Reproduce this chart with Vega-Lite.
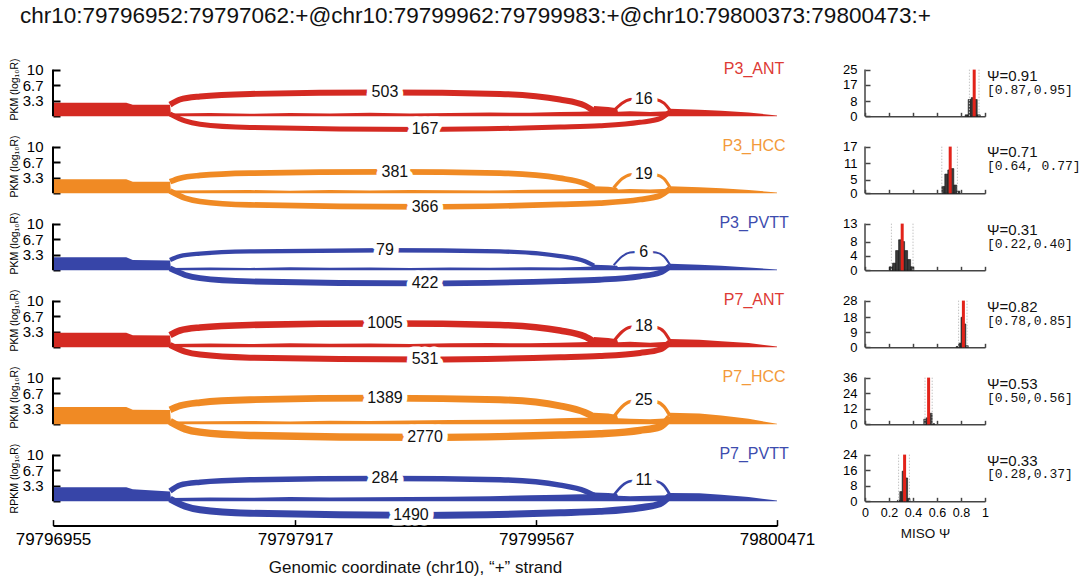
{
"$schema":"https://vega.github.io/schema/vega-lite/v6.json",
"padding":{"left":9,"top":5,"right":5,"bottom":5},
"config":{"view":{"stroke":null},"font":"Liberation Sans","axis":{"labelFont":"Liberation Sans","titleFont":"Liberation Sans","grid":false}},
"title":{"text":"chr10:79796952:79797062:+@chr10:79799962:79799983:+@chr10:79800373:79800473:+","anchor":"start","frame":"bounds","fontSize":22.5,"fontWeight":"normal","color":"#111","offset":30,"dx":11},
"datasets":{
"cov":[
{"s":"P3_ANT","x":79796955,"y":2.9},{"s":"P3_ANT","x":79797022,"y":2.9},{"s":"P3_ANT","x":79797028,"y":2.5},{"s":"P3_ANT","x":79797062,"y":2.45},{"s":"P3_ANT","x":79797068,"y":0.6},{"s":"P3_ANT","x":79797336,"y":0.7},{"s":"P3_ANT","x":79797609,"y":0.55},{"s":"P3_ANT","x":79797883,"y":0.7},{"s":"P3_ANT","x":79798156,"y":0.6},{"s":"P3_ANT","x":79798430,"y":0.75},{"s":"P3_ANT","x":79798703,"y":0.6},{"s":"P3_ANT","x":79798977,"y":0.7},{"s":"P3_ANT","x":79799250,"y":0.8},{"s":"P3_ANT","x":79799524,"y":0.75},{"s":"P3_ANT","x":79799729,"y":0.9},{"s":"P3_ANT","x":79799866,"y":1.0},{"s":"P3_ANT","x":79799955,"y":1.1},{"s":"P3_ANT","x":79799962,"y":2.2},{"s":"P3_ANT","x":79799975,"y":2.0},{"s":"P3_ANT","x":79799983,"y":1.7},{"s":"P3_ANT","x":79799990,"y":1.0},{"s":"P3_ANT","x":79800079,"y":1.1},{"s":"P3_ANT","x":79800226,"y":0.9},{"s":"P3_ANT","x":79800366,"y":1.1},{"s":"P3_ANT","x":79800373,"y":1.6},{"s":"P3_ANT","x":79800400,"y":1.4},{"s":"P3_ANT","x":79800420,"y":1.2},{"s":"P3_ANT","x":79800445,"y":0.8},{"s":"P3_ANT","x":79800471,"y":0.2},
{"s":"P3_HCC","x":79796955,"y":3.0},{"s":"P3_HCC","x":79797022,"y":3.0},{"s":"P3_HCC","x":79797028,"y":2.5},{"s":"P3_HCC","x":79797062,"y":2.45},{"s":"P3_HCC","x":79797068,"y":0.6},{"s":"P3_HCC","x":79797336,"y":0.65},{"s":"P3_HCC","x":79797609,"y":0.7},{"s":"P3_HCC","x":79797883,"y":0.55},{"s":"P3_HCC","x":79798156,"y":0.7},{"s":"P3_HCC","x":79798430,"y":0.6},{"s":"P3_HCC","x":79798703,"y":0.7},{"s":"P3_HCC","x":79798977,"y":0.65},{"s":"P3_HCC","x":79799250,"y":0.6},{"s":"P3_HCC","x":79799524,"y":0.75},{"s":"P3_HCC","x":79799729,"y":0.8},{"s":"P3_HCC","x":79799866,"y":0.9},{"s":"P3_HCC","x":79799955,"y":1.0},{"s":"P3_HCC","x":79799962,"y":1.5},{"s":"P3_HCC","x":79799975,"y":1.4},{"s":"P3_HCC","x":79799983,"y":1.2},{"s":"P3_HCC","x":79799990,"y":0.8},{"s":"P3_HCC","x":79800079,"y":0.9},{"s":"P3_HCC","x":79800226,"y":0.8},{"s":"P3_HCC","x":79800366,"y":1.0},{"s":"P3_HCC","x":79800373,"y":1.5},{"s":"P3_HCC","x":79800400,"y":1.3},{"s":"P3_HCC","x":79800420,"y":1.1},{"s":"P3_HCC","x":79800445,"y":0.7},{"s":"P3_HCC","x":79800471,"y":0.2},
{"s":"P3_PVTT","x":79796955,"y":2.8},{"s":"P3_PVTT","x":79797022,"y":2.8},{"s":"P3_PVTT","x":79797028,"y":2.2},{"s":"P3_PVTT","x":79797062,"y":2.1},{"s":"P3_PVTT","x":79797068,"y":0.5},{"s":"P3_PVTT","x":79797336,"y":0.6},{"s":"P3_PVTT","x":79797609,"y":0.5},{"s":"P3_PVTT","x":79797883,"y":0.65},{"s":"P3_PVTT","x":79798156,"y":0.55},{"s":"P3_PVTT","x":79798430,"y":0.6},{"s":"P3_PVTT","x":79798703,"y":0.5},{"s":"P3_PVTT","x":79798977,"y":0.6},{"s":"P3_PVTT","x":79799250,"y":0.55},{"s":"P3_PVTT","x":79799524,"y":0.65},{"s":"P3_PVTT","x":79799729,"y":0.6},{"s":"P3_PVTT","x":79799866,"y":0.7},{"s":"P3_PVTT","x":79799955,"y":0.8},{"s":"P3_PVTT","x":79799962,"y":1.2},{"s":"P3_PVTT","x":79799975,"y":1.1},{"s":"P3_PVTT","x":79799983,"y":1.0},{"s":"P3_PVTT","x":79799990,"y":0.7},{"s":"P3_PVTT","x":79800079,"y":0.8},{"s":"P3_PVTT","x":79800226,"y":0.7},{"s":"P3_PVTT","x":79800366,"y":0.9},{"s":"P3_PVTT","x":79800373,"y":1.4},{"s":"P3_PVTT","x":79800400,"y":1.2},{"s":"P3_PVTT","x":79800420,"y":1.0},{"s":"P3_PVTT","x":79800445,"y":0.6},{"s":"P3_PVTT","x":79800471,"y":0.2},
{"s":"P7_ANT","x":79796955,"y":3.1},{"s":"P7_ANT","x":79797022,"y":3.1},{"s":"P7_ANT","x":79797028,"y":2.6},{"s":"P7_ANT","x":79797062,"y":2.55},{"s":"P7_ANT","x":79797068,"y":0.7},{"s":"P7_ANT","x":79797336,"y":0.8},{"s":"P7_ANT","x":79797609,"y":0.7},{"s":"P7_ANT","x":79797883,"y":0.85},{"s":"P7_ANT","x":79798156,"y":0.75},{"s":"P7_ANT","x":79798430,"y":0.8},{"s":"P7_ANT","x":79798703,"y":0.7},{"s":"P7_ANT","x":79798977,"y":0.85},{"s":"P7_ANT","x":79799250,"y":0.9},{"s":"P7_ANT","x":79799524,"y":0.85},{"s":"P7_ANT","x":79799729,"y":1.0},{"s":"P7_ANT","x":79799866,"y":1.1},{"s":"P7_ANT","x":79799955,"y":1.2},{"s":"P7_ANT","x":79799962,"y":2.2},{"s":"P7_ANT","x":79799975,"y":2.0},{"s":"P7_ANT","x":79799983,"y":1.7},{"s":"P7_ANT","x":79799990,"y":1.1},{"s":"P7_ANT","x":79800079,"y":1.2},{"s":"P7_ANT","x":79800226,"y":1.0},{"s":"P7_ANT","x":79800366,"y":1.2},{"s":"P7_ANT","x":79800373,"y":1.8},{"s":"P7_ANT","x":79800400,"y":1.6},{"s":"P7_ANT","x":79800420,"y":1.3},{"s":"P7_ANT","x":79800445,"y":0.9},{"s":"P7_ANT","x":79800471,"y":0.2},
{"s":"P7_HCC","x":79796955,"y":3.7},{"s":"P7_HCC","x":79797022,"y":3.7},{"s":"P7_HCC","x":79797028,"y":3.1},{"s":"P7_HCC","x":79797062,"y":3.05},{"s":"P7_HCC","x":79797068,"y":0.6},{"s":"P7_HCC","x":79797336,"y":0.65},{"s":"P7_HCC","x":79797609,"y":0.7},{"s":"P7_HCC","x":79797883,"y":0.6},{"s":"P7_HCC","x":79798156,"y":0.75},{"s":"P7_HCC","x":79798430,"y":0.7},{"s":"P7_HCC","x":79798703,"y":0.8},{"s":"P7_HCC","x":79798977,"y":0.9},{"s":"P7_HCC","x":79799250,"y":1.0},{"s":"P7_HCC","x":79799524,"y":1.1},{"s":"P7_HCC","x":79799729,"y":1.3},{"s":"P7_HCC","x":79799866,"y":1.4},{"s":"P7_HCC","x":79799955,"y":1.4},{"s":"P7_HCC","x":79799962,"y":2.5},{"s":"P7_HCC","x":79799975,"y":2.3},{"s":"P7_HCC","x":79799983,"y":2.0},{"s":"P7_HCC","x":79799990,"y":1.3},{"s":"P7_HCC","x":79800079,"y":1.2},{"s":"P7_HCC","x":79800226,"y":1.1},{"s":"P7_HCC","x":79800366,"y":1.3},{"s":"P7_HCC","x":79800373,"y":2.5},{"s":"P7_HCC","x":79800400,"y":2.3},{"s":"P7_HCC","x":79800420,"y":1.9},{"s":"P7_HCC","x":79800445,"y":1.2},{"s":"P7_HCC","x":79800471,"y":0.1},
{"s":"P7_PVTT","x":79796955,"y":3.0},{"s":"P7_PVTT","x":79797022,"y":3.0},{"s":"P7_PVTT","x":79797028,"y":2.6},{"s":"P7_PVTT","x":79797062,"y":2.1},{"s":"P7_PVTT","x":79797068,"y":0.7},{"s":"P7_PVTT","x":79797336,"y":0.8},{"s":"P7_PVTT","x":79797609,"y":0.75},{"s":"P7_PVTT","x":79797883,"y":0.9},{"s":"P7_PVTT","x":79798156,"y":0.8},{"s":"P7_PVTT","x":79798430,"y":0.85},{"s":"P7_PVTT","x":79798703,"y":0.9},{"s":"P7_PVTT","x":79798977,"y":1.0},{"s":"P7_PVTT","x":79799250,"y":1.1},{"s":"P7_PVTT","x":79799524,"y":1.3},{"s":"P7_PVTT","x":79799729,"y":1.4},{"s":"P7_PVTT","x":79799866,"y":1.5},{"s":"P7_PVTT","x":79799955,"y":1.5},{"s":"P7_PVTT","x":79799962,"y":1.9},{"s":"P7_PVTT","x":79799975,"y":1.8},{"s":"P7_PVTT","x":79799983,"y":1.6},{"s":"P7_PVTT","x":79799990,"y":1.2},{"s":"P7_PVTT","x":79800079,"y":1.1},{"s":"P7_PVTT","x":79800226,"y":1.2},{"s":"P7_PVTT","x":79800366,"y":1.3},{"s":"P7_PVTT","x":79800373,"y":1.8},{"s":"P7_PVTT","x":79800400,"y":1.7},{"s":"P7_PVTT","x":79800420,"y":1.4},{"s":"P7_PVTT","x":79800445,"y":0.9},{"s":"P7_PVTT","x":79800471,"y":0.2}
],
"arcs":[
{"s":"P3_ANT","a":"u","n":503,"x":79797062,"y":2.5},{"s":"P3_ANT","a":"u","n":503,"x":79797130,"y":3.6},{"s":"P3_ANT","a":"u","n":503,"x":79797267,"y":4.25},{"s":"P3_ANT","a":"u","n":503,"x":79797609,"y":4.79},{"s":"P3_ANT","a":"u","n":503,"x":79798532,"y":5.1},{"s":"P3_ANT","a":"u","n":503,"x":79799319,"y":4.79},{"s":"P3_ANT","a":"u","n":503,"x":79799729,"y":3.6},{"s":"P3_ANT","a":"u","n":503,"x":79799900,"y":2.3},{"s":"P3_ANT","a":"u","n":503,"x":79799962,"y":1.1},
{"s":"P3_ANT","a":"l","n":167,"x":79797062,"y":0.5},{"s":"P3_ANT","a":"l","n":167,"x":79797165,"y":-0.98},{"s":"P3_ANT","a":"l","n":167,"x":79797267,"y":-1.68},{"s":"P3_ANT","a":"l","n":167,"x":79797609,"y":-2.38},{"s":"P3_ANT","a":"l","n":167,"x":79798806,"y":-2.8},{"s":"P3_ANT","a":"l","n":167,"x":79799729,"y":-2.3},{"s":"P3_ANT","a":"l","n":167,"x":79799967,"y":-2.02},{"s":"P3_ANT","a":"l","n":167,"x":79800152,"y":-1.29},{"s":"P3_ANT","a":"l","n":167,"x":79800299,"y":-0.5},{"s":"P3_ANT","a":"l","n":167,"x":79800373,"y":1.0},
{"s":"P3_ANT","a":"s","n":16,"x":79799980,"y":1.2},{"s":"P3_ANT","a":"s","n":16,"x":79800020,"y":2.81},{"s":"P3_ANT","a":"s","n":16,"x":79800079,"y":3.61},{"s":"P3_ANT","a":"s","n":16,"x":79800180,"y":3.8},{"s":"P3_ANT","a":"s","n":16,"x":79800270,"y":3.61},{"s":"P3_ANT","a":"s","n":16,"x":79800329,"y":2.81},{"s":"P3_ANT","a":"s","n":16,"x":79800373,"y":1.3},
{"s":"P3_HCC","a":"u","n":381,"x":79797062,"y":2.5},{"s":"P3_HCC","a":"u","n":381,"x":79797130,"y":3.25},{"s":"P3_HCC","a":"u","n":381,"x":79797267,"y":3.83},{"s":"P3_HCC","a":"u","n":381,"x":79797609,"y":4.32},{"s":"P3_HCC","a":"u","n":381,"x":79798532,"y":4.6},{"s":"P3_HCC","a":"u","n":381,"x":79799319,"y":4.32},{"s":"P3_HCC","a":"u","n":381,"x":79799729,"y":3.25},{"s":"P3_HCC","a":"u","n":381,"x":79799900,"y":2.07},{"s":"P3_HCC","a":"u","n":381,"x":79799962,"y":1.1},
{"s":"P3_HCC","a":"l","n":366,"x":79797062,"y":0.5},{"s":"P3_HCC","a":"l","n":366,"x":79797165,"y":-1.02},{"s":"P3_HCC","a":"l","n":366,"x":79797267,"y":-1.74},{"s":"P3_HCC","a":"l","n":366,"x":79797609,"y":-2.47},{"s":"P3_HCC","a":"l","n":366,"x":79798806,"y":-2.9},{"s":"P3_HCC","a":"l","n":366,"x":79799729,"y":-2.38},{"s":"P3_HCC","a":"l","n":366,"x":79799967,"y":-2.09},{"s":"P3_HCC","a":"l","n":366,"x":79800152,"y":-1.33},{"s":"P3_HCC","a":"l","n":366,"x":79800299,"y":-0.52},{"s":"P3_HCC","a":"l","n":366,"x":79800373,"y":1.0},
{"s":"P3_HCC","a":"s","n":19,"x":79799980,"y":1.2},{"s":"P3_HCC","a":"s","n":19,"x":79800020,"y":3.11},{"s":"P3_HCC","a":"s","n":19,"x":79800079,"y":3.99},{"s":"P3_HCC","a":"s","n":19,"x":79800180,"y":4.2},{"s":"P3_HCC","a":"s","n":19,"x":79800270,"y":3.99},{"s":"P3_HCC","a":"s","n":19,"x":79800329,"y":3.11},{"s":"P3_HCC","a":"s","n":19,"x":79800373,"y":1.3},
{"s":"P3_PVTT","a":"u","n":79,"x":79797062,"y":2.2},{"s":"P3_PVTT","a":"u","n":79,"x":79797130,"y":3.04},{"s":"P3_PVTT","a":"u","n":79,"x":79797267,"y":3.58},{"s":"P3_PVTT","a":"u","n":79,"x":79797609,"y":4.04},{"s":"P3_PVTT","a":"u","n":79,"x":79798532,"y":4.3},{"s":"P3_PVTT","a":"u","n":79,"x":79799319,"y":4.04},{"s":"P3_PVTT","a":"u","n":79,"x":79799729,"y":3.04},{"s":"P3_PVTT","a":"u","n":79,"x":79799900,"y":1.94},{"s":"P3_PVTT","a":"u","n":79,"x":79799962,"y":1.0},
{"s":"P3_PVTT","a":"l","n":422,"x":79797062,"y":0.4},{"s":"P3_PVTT","a":"l","n":422,"x":79797165,"y":-0.98},{"s":"P3_PVTT","a":"l","n":422,"x":79797267,"y":-1.68},{"s":"P3_PVTT","a":"l","n":422,"x":79797609,"y":-2.38},{"s":"P3_PVTT","a":"l","n":422,"x":79798806,"y":-2.8},{"s":"P3_PVTT","a":"l","n":422,"x":79799729,"y":-2.3},{"s":"P3_PVTT","a":"l","n":422,"x":79799967,"y":-2.02},{"s":"P3_PVTT","a":"l","n":422,"x":79800152,"y":-1.29},{"s":"P3_PVTT","a":"l","n":422,"x":79800299,"y":-0.5},{"s":"P3_PVTT","a":"l","n":422,"x":79800373,"y":0.9},
{"s":"P3_PVTT","a":"s","n":6,"x":79799980,"y":1.1},{"s":"P3_PVTT","a":"s","n":6,"x":79800020,"y":2.96},{"s":"P3_PVTT","a":"s","n":6,"x":79800079,"y":3.8},{"s":"P3_PVTT","a":"s","n":6,"x":79800180,"y":4.0},{"s":"P3_PVTT","a":"s","n":6,"x":79800270,"y":3.8},{"s":"P3_PVTT","a":"s","n":6,"x":79800329,"y":2.96},{"s":"P3_PVTT","a":"s","n":6,"x":79800373,"y":1.2},
{"s":"P7_ANT","a":"u","n":1005,"x":79797062,"y":2.6},{"s":"P7_ANT","a":"u","n":1005,"x":79797130,"y":3.6},{"s":"P7_ANT","a":"u","n":1005,"x":79797267,"y":4.25},{"s":"P7_ANT","a":"u","n":1005,"x":79797609,"y":4.79},{"s":"P7_ANT","a":"u","n":1005,"x":79798532,"y":5.1},{"s":"P7_ANT","a":"u","n":1005,"x":79799319,"y":4.79},{"s":"P7_ANT","a":"u","n":1005,"x":79799729,"y":3.6},{"s":"P7_ANT","a":"u","n":1005,"x":79799900,"y":2.3},{"s":"P7_ANT","a":"u","n":1005,"x":79799962,"y":1.2},
{"s":"P7_ANT","a":"l","n":531,"x":79797062,"y":0.5},{"s":"P7_ANT","a":"l","n":531,"x":79797165,"y":-0.91},{"s":"P7_ANT","a":"l","n":531,"x":79797267,"y":-1.56},{"s":"P7_ANT","a":"l","n":531,"x":79797609,"y":-2.21},{"s":"P7_ANT","a":"l","n":531,"x":79798806,"y":-2.6},{"s":"P7_ANT","a":"l","n":531,"x":79799729,"y":-2.13},{"s":"P7_ANT","a":"l","n":531,"x":79799967,"y":-1.87},{"s":"P7_ANT","a":"l","n":531,"x":79800152,"y":-1.2},{"s":"P7_ANT","a":"l","n":531,"x":79800299,"y":-0.47},{"s":"P7_ANT","a":"l","n":531,"x":79800373,"y":1.1},
{"s":"P7_ANT","a":"s","n":18,"x":79799980,"y":1.3},{"s":"P7_ANT","a":"s","n":18,"x":79800020,"y":3.33},{"s":"P7_ANT","a":"s","n":18,"x":79800079,"y":4.28},{"s":"P7_ANT","a":"s","n":18,"x":79800180,"y":4.5},{"s":"P7_ANT","a":"s","n":18,"x":79800270,"y":4.28},{"s":"P7_ANT","a":"s","n":18,"x":79800329,"y":3.33},{"s":"P7_ANT","a":"s","n":18,"x":79800373,"y":1.4},
{"s":"P7_HCC","a":"u","n":1389,"x":79797062,"y":3.1},{"s":"P7_HCC","a":"u","n":1389,"x":79797130,"y":3.95},{"s":"P7_HCC","a":"u","n":1389,"x":79797267,"y":4.66},{"s":"P7_HCC","a":"u","n":1389,"x":79797609,"y":5.26},{"s":"P7_HCC","a":"u","n":1389,"x":79798532,"y":5.6},{"s":"P7_HCC","a":"u","n":1389,"x":79799319,"y":5.26},{"s":"P7_HCC","a":"u","n":1389,"x":79799729,"y":3.95},{"s":"P7_HCC","a":"u","n":1389,"x":79799900,"y":2.53},{"s":"P7_HCC","a":"u","n":1389,"x":79799962,"y":1.6},
{"s":"P7_HCC","a":"l","n":2770,"x":79797062,"y":0.6},{"s":"P7_HCC","a":"l","n":2770,"x":79797165,"y":-0.98},{"s":"P7_HCC","a":"l","n":2770,"x":79797267,"y":-1.68},{"s":"P7_HCC","a":"l","n":2770,"x":79797609,"y":-2.38},{"s":"P7_HCC","a":"l","n":2770,"x":79798806,"y":-2.8},{"s":"P7_HCC","a":"l","n":2770,"x":79799729,"y":-2.3},{"s":"P7_HCC","a":"l","n":2770,"x":79799967,"y":-2.02},{"s":"P7_HCC","a":"l","n":2770,"x":79800152,"y":-1.29},{"s":"P7_HCC","a":"l","n":2770,"x":79800299,"y":-0.5},{"s":"P7_HCC","a":"l","n":2770,"x":79800373,"y":1.5},
{"s":"P7_HCC","a":"s","n":25,"x":79799980,"y":1.6},{"s":"P7_HCC","a":"s","n":25,"x":79800020,"y":3.77},{"s":"P7_HCC","a":"s","n":25,"x":79800079,"y":4.85},{"s":"P7_HCC","a":"s","n":25,"x":79800180,"y":5.1},{"s":"P7_HCC","a":"s","n":25,"x":79800270,"y":4.85},{"s":"P7_HCC","a":"s","n":25,"x":79800329,"y":3.77},{"s":"P7_HCC","a":"s","n":25,"x":79800373,"y":1.8},
{"s":"P7_PVTT","a":"u","n":284,"x":79797062,"y":2.2},{"s":"P7_PVTT","a":"u","n":284,"x":79797130,"y":3.46},{"s":"P7_PVTT","a":"u","n":284,"x":79797267,"y":4.08},{"s":"P7_PVTT","a":"u","n":284,"x":79797609,"y":4.61},{"s":"P7_PVTT","a":"u","n":284,"x":79798532,"y":4.9},{"s":"P7_PVTT","a":"u","n":284,"x":79799319,"y":4.61},{"s":"P7_PVTT","a":"u","n":284,"x":79799729,"y":3.46},{"s":"P7_PVTT","a":"u","n":284,"x":79799900,"y":2.21},{"s":"P7_PVTT","a":"u","n":284,"x":79799962,"y":1.3},
{"s":"P7_PVTT","a":"l","n":1490,"x":79797062,"y":0.5},{"s":"P7_PVTT","a":"l","n":1490,"x":79797165,"y":-1.05},{"s":"P7_PVTT","a":"l","n":1490,"x":79797267,"y":-1.8},{"s":"P7_PVTT","a":"l","n":1490,"x":79797609,"y":-2.55},{"s":"P7_PVTT","a":"l","n":1490,"x":79798806,"y":-3.0},{"s":"P7_PVTT","a":"l","n":1490,"x":79799729,"y":-2.46},{"s":"P7_PVTT","a":"l","n":1490,"x":79799967,"y":-2.16},{"s":"P7_PVTT","a":"l","n":1490,"x":79800152,"y":-1.38},{"s":"P7_PVTT","a":"l","n":1490,"x":79800299,"y":-0.54},{"s":"P7_PVTT","a":"l","n":1490,"x":79800373,"y":1.2},
{"s":"P7_PVTT","a":"s","n":11,"x":79799980,"y":1.3},{"s":"P7_PVTT","a":"s","n":11,"x":79800020,"y":3.33},{"s":"P7_PVTT","a":"s","n":11,"x":79800079,"y":4.28},{"s":"P7_PVTT","a":"s","n":11,"x":79800180,"y":4.5},{"s":"P7_PVTT","a":"s","n":11,"x":79800270,"y":4.28},{"s":"P7_PVTT","a":"s","n":11,"x":79800329,"y":3.33},{"s":"P7_PVTT","a":"s","n":11,"x":79800373,"y":1.4}
],
"lab":[
{"s":"P3_ANT","n":503,"x":79798532,"y":5.1},{"s":"P3_ANT","n":167,"x":79798806,"y":-2.8},{"s":"P3_ANT","n":16,"x":79800180,"y":3.8},
{"s":"P3_HCC","n":381,"x":79798600,"y":4.6},{"s":"P3_HCC","n":366,"x":79798806,"y":-2.9},{"s":"P3_HCC","n":19,"x":79800180,"y":4.2},
{"s":"P3_PVTT","n":79,"x":79798532,"y":4.3},{"s":"P3_PVTT","n":422,"x":79798806,"y":-2.8},{"s":"P3_PVTT","n":6,"x":79800180,"y":4.0},
{"s":"P7_ANT","n":1005,"x":79798532,"y":5.1},{"s":"P7_ANT","n":531,"x":79798806,"y":-2.6},{"s":"P7_ANT","n":18,"x":79800180,"y":4.5},
{"s":"P7_HCC","n":1389,"x":79798532,"y":5.6},{"s":"P7_HCC","n":2770,"x":79798806,"y":-2.8},{"s":"P7_HCC","n":25,"x":79800180,"y":5.1},
{"s":"P7_PVTT","n":284,"x":79798532,"y":4.9},{"s":"P7_PVTT","n":1490,"x":79798710,"y":-3.0},{"s":"P7_PVTT","n":11,"x":79800180,"y":4.5}
],
"names":[
{"s":"P3_ANT","x":79800450,"y":10.2},{"s":"P3_HCC","x":79800450,"y":10.2},{"s":"P3_PVTT","x":79800450,"y":10.2},{"s":"P7_ANT","x":79800450,"y":10.2},{"s":"P7_HCC","x":79800450,"y":10.2},{"s":"P7_PVTT","x":79800450,"y":10.2}
],
"hist":[
{"s":"P3_ANT","x":0.835,"x2":0.86,"y":0.8},{"s":"P3_ANT","x":0.86,"x2":0.885,"y":9},{"s":"P3_ANT","x":0.885,"x2":0.91,"y":10},{"s":"P3_ANT","x":0.91,"x2":0.935,"y":9},{"s":"P3_ANT","x":0.935,"x2":0.96,"y":0.8},
{"s":"P3_HCC","x":0.64,"x2":0.665,"y":2.5},{"s":"P3_HCC","x":0.665,"x2":0.69,"y":7},{"s":"P3_HCC","x":0.69,"x2":0.715,"y":8.5},{"s":"P3_HCC","x":0.715,"x2":0.74,"y":9},{"s":"P3_HCC","x":0.74,"x2":0.765,"y":3},{"s":"P3_HCC","x":0.765,"x2":0.79,"y":0.8},
{"s":"P3_PVTT","x":0.205,"x2":0.23,"y":1},{"s":"P3_PVTT","x":0.23,"x2":0.255,"y":2},{"s":"P3_PVTT","x":0.255,"x2":0.28,"y":5.5},{"s":"P3_PVTT","x":0.28,"x2":0.305,"y":8.5},{"s":"P3_PVTT","x":0.305,"x2":0.33,"y":8},{"s":"P3_PVTT","x":0.33,"x2":0.355,"y":5.5},{"s":"P3_PVTT","x":0.355,"x2":0.38,"y":3},{"s":"P3_PVTT","x":0.38,"x2":0.405,"y":1},
{"s":"P7_ANT","x":0.76,"x2":0.78,"y":0.5},{"s":"P7_ANT","x":0.78,"x2":0.8,"y":2.5},{"s":"P7_ANT","x":0.8,"x2":0.82,"y":18},{"s":"P7_ANT","x":0.82,"x2":0.84,"y":14},{"s":"P7_ANT","x":0.84,"x2":0.86,"y":1},
{"s":"P7_HCC","x":0.49,"x2":0.51,"y":4},{"s":"P7_HCC","x":0.51,"x2":0.535,"y":5},{"s":"P7_HCC","x":0.535,"x2":0.56,"y":8.5},{"s":"P7_HCC","x":0.56,"x2":0.58,"y":0.5},
{"s":"P7_PVTT","x":0.27,"x2":0.29,"y":0.5},{"s":"P7_PVTT","x":0.29,"x2":0.31,"y":5},{"s":"P7_PVTT","x":0.31,"x2":0.33,"y":15.5},{"s":"P7_PVTT","x":0.33,"x2":0.355,"y":12},{"s":"P7_PVTT","x":0.355,"x2":0.375,"y":1.5}
],
"misol":[
{"s":"P3_ANT","k":"ci","x":0.87,"y":25},{"s":"P3_ANT","k":"ci","x":0.95,"y":25},{"s":"P3_ANT","k":"psi","x":0.91,"y":25},{"s":"P3_ANT","k":"ax","x":0,"y":25},
{"s":"P3_HCC","k":"ci","x":0.64,"y":17},{"s":"P3_HCC","k":"ci","x":0.77,"y":17},{"s":"P3_HCC","k":"psi","x":0.71,"y":17},{"s":"P3_HCC","k":"ax","x":0,"y":17},
{"s":"P3_PVTT","k":"ci","x":0.22,"y":13},{"s":"P3_PVTT","k":"ci","x":0.4,"y":13},{"s":"P3_PVTT","k":"psi","x":0.31,"y":13},{"s":"P3_PVTT","k":"ax","x":0,"y":13},
{"s":"P7_ANT","k":"ci","x":0.78,"y":28},{"s":"P7_ANT","k":"ci","x":0.85,"y":28},{"s":"P7_ANT","k":"psi","x":0.82,"y":28},{"s":"P7_ANT","k":"ax","x":0,"y":28},
{"s":"P7_HCC","k":"ci","x":0.5,"y":36},{"s":"P7_HCC","k":"ci","x":0.56,"y":36},{"s":"P7_HCC","k":"psi","x":0.53,"y":36},{"s":"P7_HCC","k":"ax","x":0,"y":36},
{"s":"P7_PVTT","k":"ci","x":0.28,"y":24},{"s":"P7_PVTT","k":"ci","x":0.37,"y":24},{"s":"P7_PVTT","k":"psi","x":0.33,"y":24},{"s":"P7_PVTT","k":"ax","x":0,"y":24}
],
"misot":[
{"s":"P3_ANT","x":1,"y":25,"t1":"Ψ=0.91","t2":"[0.87,0.95]"},
{"s":"P3_HCC","x":1,"y":17,"t1":"Ψ=0.71","t2":"[0.64, 0.77]"},
{"s":"P3_PVTT","x":1,"y":13,"t1":"Ψ=0.31","t2":"[0.22,0.40]"},
{"s":"P7_ANT","x":1,"y":28,"t1":"Ψ=0.82","t2":"[0.78,0.85]"},
{"s":"P7_HCC","x":1,"y":36,"t1":"Ψ=0.53","t2":"[0.50,0.56]"},
{"s":"P7_PVTT","x":1,"y":24,"t1":"Ψ=0.33","t2":"[0.28,0.37]"}
]
},
"spacing":27,
"hconcat":[
{"bounds":"flush","spacing":0,
"vconcat":[
{"width":724,"height":76.6,
"encoding":{"x":{"field":"x","type":"quantitative","scale":{"domain":[79796955,79797062,79799962,79799983,79800373,79800471],"range":[0,117,541,564,617,724],"zero":false,"nice":false},"axis":null},
"y":{"field":"y","type":"quantitative","scale":{"domain":[-5.2,11.2],"zero":false,"nice":false},"axis":{"values":[0,3.3,6.7,10],"labelExpr":"datum.value===0?'':''+datum.value","domain":false,"tickSize":-7,"tickWidth":2,"tickColor":"black","labelFontSize":15,"labelColor":"black","labelPadding":17,"title":"PKM (log₁₀R)","titleFontSize":10.5,"titleFontWeight":"normal","titleColor":"black","titleX":-34,"titleY":25}}},
"layer":[
{"data":{"name":"cov"},"transform":[{"filter":"datum.s==='P3_ANT'"}],"mark":{"type":"area","color":"#d42a22"}},
{"data":{"name":"arcs"},"transform":[{"filter":"datum.s==='P3_ANT'"}],"mark":{"type":"line","color":"#d42a22","interpolate":"monotone"},"encoding":{"detail":{"field":"a","type":"nominal"},"size":{"field":"n","type":"quantitative","scale":{"type":"log","domain":[3,3000],"range":[1.5,7.5]},"legend":null}}},
{"data":{"name":"lab"},"transform":[{"filter":"datum.s==='P3_ANT'"}],"mark":{"type":"text","fontSize":16,"fill":"white","stroke":"white","strokeWidth":11,"strokeJoin":"round"},"encoding":{"text":{"field":"n","type":"nominal"}}},
{"data":{"name":"lab"},"transform":[{"filter":"datum.s==='P3_ANT'"}],"mark":{"type":"text","fontSize":16,"fill":"#111"},"encoding":{"text":{"field":"n","type":"nominal"}}},
{"data":{"name":"names"},"transform":[{"filter":"datum.s==='P3_ANT'"}],"mark":{"type":"text","fontSize":16,"fill":"#dd3a35"},"encoding":{"text":{"field":"s","type":"nominal"}}},
{"data":{"values":[{"x":79796955,"y":0,"y2":10}]},"mark":{"type":"rule","color":"black","strokeWidth":2},"encoding":{"y2":{"field":"y2"}}}
]},
{"width":724,"height":76.6,
"encoding":{"x":{"field":"x","type":"quantitative","scale":{"domain":[79796955,79797062,79799962,79799983,79800373,79800471],"range":[0,117,541,564,617,724],"zero":false,"nice":false},"axis":null},
"y":{"field":"y","type":"quantitative","scale":{"domain":[-5.2,11.2],"zero":false,"nice":false},"axis":{"values":[0,3.3,6.7,10],"labelExpr":"datum.value===0?'':''+datum.value","domain":false,"tickSize":-7,"tickWidth":2,"tickColor":"black","labelFontSize":15,"labelColor":"black","labelPadding":17,"title":"PKM (log₁₀R)","titleFontSize":10.5,"titleFontWeight":"normal","titleColor":"black","titleX":-34,"titleY":25}}},
"layer":[
{"data":{"name":"cov"},"transform":[{"filter":"datum.s==='P3_HCC'"}],"mark":{"type":"area","color":"#f08a24"}},
{"data":{"name":"arcs"},"transform":[{"filter":"datum.s==='P3_HCC'"}],"mark":{"type":"line","color":"#f08a24","interpolate":"monotone"},"encoding":{"detail":{"field":"a","type":"nominal"},"size":{"field":"n","type":"quantitative","scale":{"type":"log","domain":[3,3000],"range":[1.5,7.5]},"legend":null}}},
{"data":{"name":"lab"},"transform":[{"filter":"datum.s==='P3_HCC'"}],"mark":{"type":"text","fontSize":16,"fill":"white","stroke":"white","strokeWidth":11,"strokeJoin":"round"},"encoding":{"text":{"field":"n","type":"nominal"}}},
{"data":{"name":"lab"},"transform":[{"filter":"datum.s==='P3_HCC'"}],"mark":{"type":"text","fontSize":16,"fill":"#111"},"encoding":{"text":{"field":"n","type":"nominal"}}},
{"data":{"name":"names"},"transform":[{"filter":"datum.s==='P3_HCC'"}],"mark":{"type":"text","fontSize":16,"fill":"#f39a3a"},"encoding":{"text":{"field":"s","type":"nominal"}}},
{"data":{"values":[{"x":79796955,"y":0,"y2":10}]},"mark":{"type":"rule","color":"black","strokeWidth":2},"encoding":{"y2":{"field":"y2"}}}
]},
{"width":724,"height":76.6,
"encoding":{"x":{"field":"x","type":"quantitative","scale":{"domain":[79796955,79797062,79799962,79799983,79800373,79800471],"range":[0,117,541,564,617,724],"zero":false,"nice":false},"axis":null},
"y":{"field":"y","type":"quantitative","scale":{"domain":[-5.2,11.2],"zero":false,"nice":false},"axis":{"values":[0,3.3,6.7,10],"labelExpr":"datum.value===0?'':''+datum.value","domain":false,"tickSize":-7,"tickWidth":2,"tickColor":"black","labelFontSize":15,"labelColor":"black","labelPadding":17,"title":"PKM (log₁₀R)","titleFontSize":10.5,"titleFontWeight":"normal","titleColor":"black","titleX":-34,"titleY":25}}},
"layer":[
{"data":{"name":"cov"},"transform":[{"filter":"datum.s==='P3_PVTT'"}],"mark":{"type":"area","color":"#3745a8"}},
{"data":{"name":"arcs"},"transform":[{"filter":"datum.s==='P3_PVTT'"}],"mark":{"type":"line","color":"#3745a8","interpolate":"monotone"},"encoding":{"detail":{"field":"a","type":"nominal"},"size":{"field":"n","type":"quantitative","scale":{"type":"log","domain":[3,3000],"range":[1.5,7.5]},"legend":null}}},
{"data":{"name":"lab"},"transform":[{"filter":"datum.s==='P3_PVTT'"}],"mark":{"type":"text","fontSize":16,"fill":"white","stroke":"white","strokeWidth":11,"strokeJoin":"round"},"encoding":{"text":{"field":"n","type":"nominal"}}},
{"data":{"name":"lab"},"transform":[{"filter":"datum.s==='P3_PVTT'"}],"mark":{"type":"text","fontSize":16,"fill":"#111"},"encoding":{"text":{"field":"n","type":"nominal"}}},
{"data":{"name":"names"},"transform":[{"filter":"datum.s==='P3_PVTT'"}],"mark":{"type":"text","fontSize":16,"fill":"#3d4cae"},"encoding":{"text":{"field":"s","type":"nominal"}}},
{"data":{"values":[{"x":79796955,"y":0,"y2":10}]},"mark":{"type":"rule","color":"black","strokeWidth":2},"encoding":{"y2":{"field":"y2"}}}
]},
{"width":724,"height":76.6,
"encoding":{"x":{"field":"x","type":"quantitative","scale":{"domain":[79796955,79797062,79799962,79799983,79800373,79800471],"range":[0,117,541,564,617,724],"zero":false,"nice":false},"axis":null},
"y":{"field":"y","type":"quantitative","scale":{"domain":[-5.2,11.2],"zero":false,"nice":false},"axis":{"values":[0,3.3,6.7,10],"labelExpr":"datum.value===0?'':''+datum.value","domain":false,"tickSize":-7,"tickWidth":2,"tickColor":"black","labelFontSize":15,"labelColor":"black","labelPadding":17,"title":"PKM (log₁₀R)","titleFontSize":10.5,"titleFontWeight":"normal","titleColor":"black","titleX":-34,"titleY":25}}},
"layer":[
{"data":{"name":"cov"},"transform":[{"filter":"datum.s==='P7_ANT'"}],"mark":{"type":"area","color":"#d42a22"}},
{"data":{"name":"arcs"},"transform":[{"filter":"datum.s==='P7_ANT'"}],"mark":{"type":"line","color":"#d42a22","interpolate":"monotone"},"encoding":{"detail":{"field":"a","type":"nominal"},"size":{"field":"n","type":"quantitative","scale":{"type":"log","domain":[3,3000],"range":[1.5,7.5]},"legend":null}}},
{"data":{"name":"lab"},"transform":[{"filter":"datum.s==='P7_ANT'"}],"mark":{"type":"text","fontSize":16,"fill":"white","stroke":"white","strokeWidth":11,"strokeJoin":"round"},"encoding":{"text":{"field":"n","type":"nominal"}}},
{"data":{"name":"lab"},"transform":[{"filter":"datum.s==='P7_ANT'"}],"mark":{"type":"text","fontSize":16,"fill":"#111"},"encoding":{"text":{"field":"n","type":"nominal"}}},
{"data":{"name":"names"},"transform":[{"filter":"datum.s==='P7_ANT'"}],"mark":{"type":"text","fontSize":16,"fill":"#dd3a35"},"encoding":{"text":{"field":"s","type":"nominal"}}},
{"data":{"values":[{"x":79796955,"y":0,"y2":10}]},"mark":{"type":"rule","color":"black","strokeWidth":2},"encoding":{"y2":{"field":"y2"}}}
]},
{"width":724,"height":76.6,
"encoding":{"x":{"field":"x","type":"quantitative","scale":{"domain":[79796955,79797062,79799962,79799983,79800373,79800471],"range":[0,117,541,564,617,724],"zero":false,"nice":false},"axis":null},
"y":{"field":"y","type":"quantitative","scale":{"domain":[-5.2,11.2],"zero":false,"nice":false},"axis":{"values":[0,3.3,6.7,10],"labelExpr":"datum.value===0?'':''+datum.value","domain":false,"tickSize":-7,"tickWidth":2,"tickColor":"black","labelFontSize":15,"labelColor":"black","labelPadding":17,"title":"PKM (log₁₀R)","titleFontSize":10.5,"titleFontWeight":"normal","titleColor":"black","titleX":-34,"titleY":25}}},
"layer":[
{"data":{"name":"cov"},"transform":[{"filter":"datum.s==='P7_HCC'"}],"mark":{"type":"area","color":"#f08a24"}},
{"data":{"name":"arcs"},"transform":[{"filter":"datum.s==='P7_HCC'"}],"mark":{"type":"line","color":"#f08a24","interpolate":"monotone"},"encoding":{"detail":{"field":"a","type":"nominal"},"size":{"field":"n","type":"quantitative","scale":{"type":"log","domain":[3,3000],"range":[1.5,7.5]},"legend":null}}},
{"data":{"name":"lab"},"transform":[{"filter":"datum.s==='P7_HCC'"}],"mark":{"type":"text","fontSize":16,"fill":"white","stroke":"white","strokeWidth":11,"strokeJoin":"round"},"encoding":{"text":{"field":"n","type":"nominal"}}},
{"data":{"name":"lab"},"transform":[{"filter":"datum.s==='P7_HCC'"}],"mark":{"type":"text","fontSize":16,"fill":"#111"},"encoding":{"text":{"field":"n","type":"nominal"}}},
{"data":{"name":"names"},"transform":[{"filter":"datum.s==='P7_HCC'"}],"mark":{"type":"text","fontSize":16,"fill":"#f39a3a"},"encoding":{"text":{"field":"s","type":"nominal"}}},
{"data":{"values":[{"x":79796955,"y":0,"y2":10}]},"mark":{"type":"rule","color":"black","strokeWidth":2},"encoding":{"y2":{"field":"y2"}}}
]},
{"width":724,"height":76.6,
"encoding":{"x":{"field":"x","type":"quantitative","scale":{"domain":[79796955,79797062,79799962,79799983,79800373,79800471],"range":[0,117,541,564,617,724],"zero":false,"nice":false},"axis":{"values":[79796955,79797917,79799567,79800471],"labelExpr":"''+datum.value","labelFlush":false,"labelOverlap":false,"domainColor":"black","domainWidth":2,"tickColor":"black","tickWidth":1.5,"tickSize":-6,"labelFontSize":17,"labelColor":"black","labelPadding":12,"title":"Genomic coordinate (chr10), “+” strand","titleFontSize":17,"titleFontWeight":"normal","titleColor":"#111","titlePadding":12}},
"y":{"field":"y","type":"quantitative","scale":{"domain":[-5.2,11.2],"zero":false,"nice":false},"axis":{"values":[0,3.3,6.7,10],"labelExpr":"datum.value===0?'':''+datum.value","domain":false,"tickSize":-7,"tickWidth":2,"tickColor":"black","labelFontSize":15,"labelColor":"black","labelPadding":17,"title":"RPKM (log₁₀R)","titleFontSize":10.5,"titleFontWeight":"normal","titleColor":"black","titleX":-34,"titleY":29}}},
"layer":[
{"data":{"name":"cov"},"transform":[{"filter":"datum.s==='P7_PVTT'"}],"mark":{"type":"area","color":"#3745a8"}},
{"data":{"name":"arcs"},"transform":[{"filter":"datum.s==='P7_PVTT'"}],"mark":{"type":"line","color":"#3745a8","interpolate":"monotone"},"encoding":{"detail":{"field":"a","type":"nominal"},"size":{"field":"n","type":"quantitative","scale":{"type":"log","domain":[3,3000],"range":[1.5,7.5]},"legend":null}}},
{"data":{"name":"lab"},"transform":[{"filter":"datum.s==='P7_PVTT'"}],"mark":{"type":"text","fontSize":16,"fill":"white","stroke":"white","strokeWidth":11,"strokeJoin":"round"},"encoding":{"text":{"field":"n","type":"nominal"}}},
{"data":{"name":"lab"},"transform":[{"filter":"datum.s==='P7_PVTT'"}],"mark":{"type":"text","fontSize":16,"fill":"#111"},"encoding":{"text":{"field":"n","type":"nominal"}}},
{"data":{"name":"names"},"transform":[{"filter":"datum.s==='P7_PVTT'"}],"mark":{"type":"text","fontSize":16,"fill":"#3d4cae"},"encoding":{"text":{"field":"s","type":"nominal"}}},
{"data":{"values":[{"x":79796955,"y":0,"y2":10}]},"mark":{"type":"rule","color":"black","strokeWidth":2},"encoding":{"y2":{"field":"y2"}}}
]}
]},
{"bounds":"flush","spacing":0,
"vconcat":[
{"width":120,"height":76.6,
"encoding":{"x":{"field":"x","type":"quantitative","scale":{"domain":[0,1],"nice":false,"zero":false},"axis":{"values":[0,0.2,0.4,0.6,0.8,1],"labels":false,"title":null,"domainColor":"#444","domainWidth":1.5,"tickColor":"#444","tickWidth":1.5,"tickSize":-4,"offset":-24.29}},
"y":{"field":"y","type":"quantitative","scale":{"domain":[-13,28],"nice":false,"zero":false},"axis":{"values":[0,8,17,25],"labelExpr":"''+datum.value","domain":false,"tickSize":-5,"tickColor":"#444","tickWidth":1.5,"labelFontSize":13,"labelColor":"black","labelPadding":13,"title":null}}},
"layer":[
{"data":{"name":"hist"},"transform":[{"filter":"datum.s==='P3_ANT'"}],"mark":{"type":"bar","fill":"#3a3a3a","stroke":"#111","strokeWidth":0.6},"encoding":{"x2":{"field":"x2"},"y2":{"datum":0}}},
{"data":{"name":"misol"},"transform":[{"filter":"datum.s==='P3_ANT' && datum.k==='ci'"}],"mark":{"type":"rule","color":"#c4c4c4","strokeDash":[1.5,1.5],"strokeWidth":1},"encoding":{"y2":{"datum":0}}},
{"data":{"name":"misol"},"transform":[{"filter":"datum.s==='P3_ANT' && datum.k==='psi'"}],"mark":{"type":"rule","color":"#e2231a","strokeWidth":3},"encoding":{"y2":{"datum":0}}},
{"data":{"name":"misol"},"transform":[{"filter":"datum.s==='P3_ANT' && datum.k==='ax'"}],"mark":{"type":"rule","color":"#444","strokeWidth":1.5},"encoding":{"y2":{"datum":0}}},
{"data":{"name":"misot"},"transform":[{"filter":"datum.s==='P3_ANT'"}],"mark":{"type":"text","align":"left","baseline":"middle","fontSize":15,"fill":"#111","dx":2,"dy":6},"encoding":{"text":{"field":"t1","type":"nominal"}}},
{"data":{"name":"misot"},"transform":[{"filter":"datum.s==='P3_ANT'"}],"mark":{"type":"text","align":"left","baseline":"middle","fontSize":13,"font":"Liberation Mono","fill":"#111","dx":2,"dy":20},"encoding":{"text":{"field":"t2","type":"nominal"}}}
]},
{"width":120,"height":76.6,
"encoding":{"x":{"field":"x","type":"quantitative","scale":{"domain":[0,1],"nice":false,"zero":false},"axis":{"values":[0,0.2,0.4,0.6,0.8,1],"labels":false,"title":null,"domainColor":"#444","domainWidth":1.5,"tickColor":"#444","tickWidth":1.5,"tickSize":-4,"offset":-24.29}},
"y":{"field":"y","type":"quantitative","scale":{"domain":[-8.84,19.04],"nice":false,"zero":false},"axis":{"values":[0,5,11,17],"labelExpr":"''+datum.value","domain":false,"tickSize":-5,"tickColor":"#444","tickWidth":1.5,"labelFontSize":13,"labelColor":"black","labelPadding":13,"title":null}}},
"layer":[
{"data":{"name":"hist"},"transform":[{"filter":"datum.s==='P3_HCC'"}],"mark":{"type":"bar","fill":"#3a3a3a","stroke":"#111","strokeWidth":0.6},"encoding":{"x2":{"field":"x2"},"y2":{"datum":0}}},
{"data":{"name":"misol"},"transform":[{"filter":"datum.s==='P3_HCC' && datum.k==='ci'"}],"mark":{"type":"rule","color":"#c4c4c4","strokeDash":[1.5,1.5],"strokeWidth":1},"encoding":{"y2":{"datum":0}}},
{"data":{"name":"misol"},"transform":[{"filter":"datum.s==='P3_HCC' && datum.k==='psi'"}],"mark":{"type":"rule","color":"#e2231a","strokeWidth":3},"encoding":{"y2":{"datum":0}}},
{"data":{"name":"misol"},"transform":[{"filter":"datum.s==='P3_HCC' && datum.k==='ax'"}],"mark":{"type":"rule","color":"#444","strokeWidth":1.5},"encoding":{"y2":{"datum":0}}},
{"data":{"name":"misot"},"transform":[{"filter":"datum.s==='P3_HCC'"}],"mark":{"type":"text","align":"left","baseline":"middle","fontSize":15,"fill":"#111","dx":2,"dy":5},"encoding":{"text":{"field":"t1","type":"nominal"}}},
{"data":{"name":"misot"},"transform":[{"filter":"datum.s==='P3_HCC'"}],"mark":{"type":"text","align":"left","baseline":"middle","fontSize":13,"font":"Liberation Mono","fill":"#111","dx":2,"dy":19},"encoding":{"text":{"field":"t2","type":"nominal"}}}
]},
{"width":120,"height":76.6,
"encoding":{"x":{"field":"x","type":"quantitative","scale":{"domain":[0,1],"nice":false,"zero":false},"axis":{"values":[0,0.2,0.4,0.6,0.8,1],"labels":false,"title":null,"domainColor":"#444","domainWidth":1.5,"tickColor":"#444","tickWidth":1.5,"tickSize":-4,"offset":-24.29}},
"y":{"field":"y","type":"quantitative","scale":{"domain":[-6.76,14.56],"nice":false,"zero":false},"axis":{"values":[0,4,8,13],"labelExpr":"''+datum.value","domain":false,"tickSize":-5,"tickColor":"#444","tickWidth":1.5,"labelFontSize":13,"labelColor":"black","labelPadding":13,"title":null}}},
"layer":[
{"data":{"name":"hist"},"transform":[{"filter":"datum.s==='P3_PVTT'"}],"mark":{"type":"bar","fill":"#3a3a3a","stroke":"#111","strokeWidth":0.6},"encoding":{"x2":{"field":"x2"},"y2":{"datum":0}}},
{"data":{"name":"misol"},"transform":[{"filter":"datum.s==='P3_PVTT' && datum.k==='ci'"}],"mark":{"type":"rule","color":"#c4c4c4","strokeDash":[1.5,1.5],"strokeWidth":1},"encoding":{"y2":{"datum":0}}},
{"data":{"name":"misol"},"transform":[{"filter":"datum.s==='P3_PVTT' && datum.k==='psi'"}],"mark":{"type":"rule","color":"#e2231a","strokeWidth":3},"encoding":{"y2":{"datum":0}}},
{"data":{"name":"misol"},"transform":[{"filter":"datum.s==='P3_PVTT' && datum.k==='ax'"}],"mark":{"type":"rule","color":"#444","strokeWidth":1.5},"encoding":{"y2":{"datum":0}}},
{"data":{"name":"misot"},"transform":[{"filter":"datum.s==='P3_PVTT'"}],"mark":{"type":"text","align":"left","baseline":"middle","fontSize":15,"fill":"#111","dx":2,"dy":6},"encoding":{"text":{"field":"t1","type":"nominal"}}},
{"data":{"name":"misot"},"transform":[{"filter":"datum.s==='P3_PVTT'"}],"mark":{"type":"text","align":"left","baseline":"middle","fontSize":13,"font":"Liberation Mono","fill":"#111","dx":2,"dy":20},"encoding":{"text":{"field":"t2","type":"nominal"}}}
]},
{"width":120,"height":76.6,
"encoding":{"x":{"field":"x","type":"quantitative","scale":{"domain":[0,1],"nice":false,"zero":false},"axis":{"values":[0,0.2,0.4,0.6,0.8,1],"labels":false,"title":null,"domainColor":"#444","domainWidth":1.5,"tickColor":"#444","tickWidth":1.5,"tickSize":-4,"offset":-24.29}},
"y":{"field":"y","type":"quantitative","scale":{"domain":[-14.56,31.36],"nice":false,"zero":false},"axis":{"values":[0,9,18,28],"labelExpr":"''+datum.value","domain":false,"tickSize":-5,"tickColor":"#444","tickWidth":1.5,"labelFontSize":13,"labelColor":"black","labelPadding":13,"title":null}}},
"layer":[
{"data":{"name":"hist"},"transform":[{"filter":"datum.s==='P7_ANT'"}],"mark":{"type":"bar","fill":"#3a3a3a","stroke":"#111","strokeWidth":0.6},"encoding":{"x2":{"field":"x2"},"y2":{"datum":0}}},
{"data":{"name":"misol"},"transform":[{"filter":"datum.s==='P7_ANT' && datum.k==='ci'"}],"mark":{"type":"rule","color":"#c4c4c4","strokeDash":[1.5,1.5],"strokeWidth":1},"encoding":{"y2":{"datum":0}}},
{"data":{"name":"misol"},"transform":[{"filter":"datum.s==='P7_ANT' && datum.k==='psi'"}],"mark":{"type":"rule","color":"#e2231a","strokeWidth":3},"encoding":{"y2":{"datum":0}}},
{"data":{"name":"misol"},"transform":[{"filter":"datum.s==='P7_ANT' && datum.k==='ax'"}],"mark":{"type":"rule","color":"#444","strokeWidth":1.5},"encoding":{"y2":{"datum":0}}},
{"data":{"name":"misot"},"transform":[{"filter":"datum.s==='P7_ANT'"}],"mark":{"type":"text","align":"left","baseline":"middle","fontSize":15,"fill":"#111","dx":2,"dy":6},"encoding":{"text":{"field":"t1","type":"nominal"}}},
{"data":{"name":"misot"},"transform":[{"filter":"datum.s==='P7_ANT'"}],"mark":{"type":"text","align":"left","baseline":"middle","fontSize":13,"font":"Liberation Mono","fill":"#111","dx":2,"dy":20},"encoding":{"text":{"field":"t2","type":"nominal"}}}
]},
{"width":120,"height":76.6,
"encoding":{"x":{"field":"x","type":"quantitative","scale":{"domain":[0,1],"nice":false,"zero":false},"axis":{"values":[0,0.2,0.4,0.6,0.8,1],"labels":false,"title":null,"domainColor":"#444","domainWidth":1.5,"tickColor":"#444","tickWidth":1.5,"tickSize":-4,"offset":-24.29}},
"y":{"field":"y","type":"quantitative","scale":{"domain":[-18.72,40.32],"nice":false,"zero":false},"axis":{"values":[0,12,24,36],"labelExpr":"''+datum.value","domain":false,"tickSize":-5,"tickColor":"#444","tickWidth":1.5,"labelFontSize":13,"labelColor":"black","labelPadding":13,"title":null}}},
"layer":[
{"data":{"name":"hist"},"transform":[{"filter":"datum.s==='P7_HCC'"}],"mark":{"type":"bar","fill":"#3a3a3a","stroke":"#111","strokeWidth":0.6},"encoding":{"x2":{"field":"x2"},"y2":{"datum":0}}},
{"data":{"name":"misol"},"transform":[{"filter":"datum.s==='P7_HCC' && datum.k==='ci'"}],"mark":{"type":"rule","color":"#c4c4c4","strokeDash":[1.5,1.5],"strokeWidth":1},"encoding":{"y2":{"datum":0}}},
{"data":{"name":"misol"},"transform":[{"filter":"datum.s==='P7_HCC' && datum.k==='psi'"}],"mark":{"type":"rule","color":"#e2231a","strokeWidth":3},"encoding":{"y2":{"datum":0}}},
{"data":{"name":"misol"},"transform":[{"filter":"datum.s==='P7_HCC' && datum.k==='ax'"}],"mark":{"type":"rule","color":"#444","strokeWidth":1.5},"encoding":{"y2":{"datum":0}}},
{"data":{"name":"misot"},"transform":[{"filter":"datum.s==='P7_HCC'"}],"mark":{"type":"text","align":"left","baseline":"middle","fontSize":15,"fill":"#111","dx":2,"dy":6},"encoding":{"text":{"field":"t1","type":"nominal"}}},
{"data":{"name":"misot"},"transform":[{"filter":"datum.s==='P7_HCC'"}],"mark":{"type":"text","align":"left","baseline":"middle","fontSize":13,"font":"Liberation Mono","fill":"#111","dx":2,"dy":20},"encoding":{"text":{"field":"t2","type":"nominal"}}}
]},
{"width":120,"height":76.6,
"encoding":{"x":{"field":"x","type":"quantitative","scale":{"domain":[0,1],"nice":false,"zero":false},"axis":{"values":[0,0.2,0.4,0.6,0.8,1],"labelExpr":"''+datum.value","labelFlush":false,"labelOverlap":false,"labelFontSize":12.5,"labelColor":"black","labelPadding":9,"title":"MISO Ψ","titleFontSize":13.5,"titleFontWeight":"normal","titleColor":"#111","titlePadding":8,"domainColor":"#444","domainWidth":1.5,"tickColor":"#444","tickWidth":1.5,"tickSize":-4,"offset":-24.29}},
"y":{"field":"y","type":"quantitative","scale":{"domain":[-12.48,26.88],"nice":false,"zero":false},"axis":{"values":[0,8,16,24],"labelExpr":"''+datum.value","domain":false,"tickSize":-5,"tickColor":"#444","tickWidth":1.5,"labelFontSize":13,"labelColor":"black","labelPadding":13,"title":null}}},
"layer":[
{"data":{"name":"hist"},"transform":[{"filter":"datum.s==='P7_PVTT'"}],"mark":{"type":"bar","fill":"#3a3a3a","stroke":"#111","strokeWidth":0.6},"encoding":{"x2":{"field":"x2"},"y2":{"datum":0}}},
{"data":{"name":"misol"},"transform":[{"filter":"datum.s==='P7_PVTT' && datum.k==='ci'"}],"mark":{"type":"rule","color":"#c4c4c4","strokeDash":[1.5,1.5],"strokeWidth":1},"encoding":{"y2":{"datum":0}}},
{"data":{"name":"misol"},"transform":[{"filter":"datum.s==='P7_PVTT' && datum.k==='psi'"}],"mark":{"type":"rule","color":"#e2231a","strokeWidth":3},"encoding":{"y2":{"datum":0}}},
{"data":{"name":"misol"},"transform":[{"filter":"datum.s==='P7_PVTT' && datum.k==='ax'"}],"mark":{"type":"rule","color":"#444","strokeWidth":1.5},"encoding":{"y2":{"datum":0}}},
{"data":{"name":"misot"},"transform":[{"filter":"datum.s==='P7_PVTT'"}],"mark":{"type":"text","align":"left","baseline":"middle","fontSize":15,"fill":"#111","dx":2,"dy":6},"encoding":{"text":{"field":"t1","type":"nominal"}}},
{"data":{"name":"misot"},"transform":[{"filter":"datum.s==='P7_PVTT'"}],"mark":{"type":"text","align":"left","baseline":"middle","fontSize":13,"font":"Liberation Mono","fill":"#111","dx":2,"dy":19},"encoding":{"text":{"field":"t2","type":"nominal"}}}
]}
]}
]
}
